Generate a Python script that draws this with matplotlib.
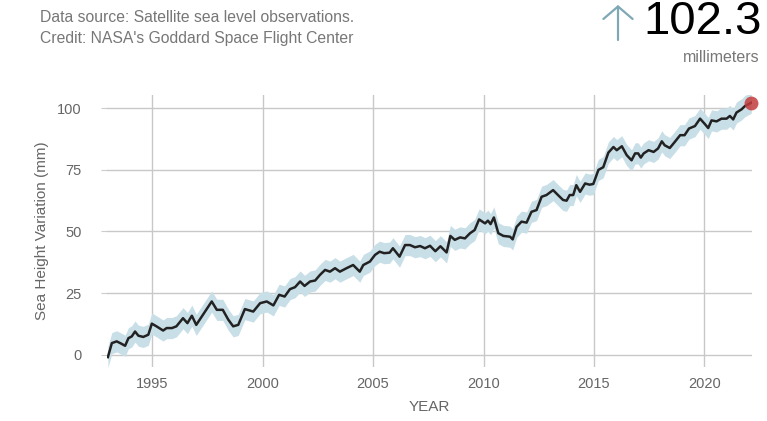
import numpy as np
import matplotlib
matplotlib.use("Agg")
import matplotlib.pyplot as plt

plt.rcParams["font.family"] = ["Liberation Sans", "DejaVu Sans"]

# Sea level readings (year, mm)
years = [1993.0, 1993.18, 1993.4, 1993.6, 1993.78, 1993.93, 1994.08, 1994.23, 1994.38, 1994.6,
         1994.83, 1994.99, 1995.2, 1995.5, 1995.66, 1995.9, 1996.1, 1996.4, 1996.6, 1996.8,
         1997.0, 1997.4, 1997.7, 1997.93, 1998.2, 1998.45, 1998.67, 1998.9, 1999.2, 1999.58,
         1999.89, 2000.19, 2000.49, 2000.75, 2001.0, 2001.24, 2001.47, 2001.7, 2001.9, 2002.15,
         2002.38, 2002.6, 2002.83, 2003.05, 2003.28, 2003.5, 2003.8, 2004.1, 2004.4, 2004.56,
         2004.86, 2005.09, 2005.3, 2005.5, 2005.75, 2005.9, 2006.2, 2006.45, 2006.67, 2006.9,
         2007.13, 2007.35, 2007.58, 2007.82, 2008.05, 2008.33, 2008.5, 2008.7, 2008.94, 2009.16,
         2009.39, 2009.6, 2009.8, 2010.07, 2010.2, 2010.32, 2010.47, 2010.67, 2010.9, 2011.2,
         2011.32, 2011.5, 2011.72, 2011.95, 2012.17, 2012.4, 2012.63, 2012.85, 2013.15, 2013.37,
         2013.6, 2013.76, 2013.9, 2014.06, 2014.2, 2014.37, 2014.6, 2014.8, 2014.97, 2015.2,
         2015.42, 2015.65, 2015.88, 2016.03, 2016.26, 2016.48, 2016.7, 2016.86, 2017.0, 2017.12,
         2017.25, 2017.47, 2017.7, 2017.9, 2018.07, 2018.2, 2018.43, 2018.66, 2018.9, 2019.1,
         2019.3, 2019.57, 2019.8, 2020.0, 2020.17, 2020.32, 2020.55, 2020.77, 2021.0, 2021.15,
         2021.3, 2021.45, 2021.68, 2021.83, 2022.12]
height_mm = [-1.0, 4.7, 5.4, 4.5, 3.6, 6.7, 7.4, 9.4, 7.7, 7.2,
             8.1, 12.6, 11.5, 9.8, 10.8, 10.8, 11.5, 14.8, 12.8, 15.8,
             12.1, 17.5, 21.6, 18.2, 18.2, 14.2, 11.5, 12.1, 18.5, 17.5,
             20.9, 21.6, 20.0, 24.3, 23.6, 26.6, 27.4, 29.7, 27.9, 29.7,
             30.1, 32.4, 34.4, 33.7, 35.1, 33.7, 35.1, 36.4, 33.7, 36.4,
             37.8, 40.5, 41.8, 41.2, 41.4, 43.2, 39.8, 44.5, 44.5, 43.6,
             44.1, 43.2, 44.2, 42.0, 44.0, 41.5, 48.2, 46.6, 47.6, 47.2,
             49.3, 50.6, 54.9, 53.3, 54.4, 53.0, 55.7, 49.3, 48.2, 47.9,
             46.8, 51.9, 54.0, 53.6, 58.0, 58.7, 64.1, 64.8, 66.8, 64.8,
             62.8, 62.5, 64.8, 64.8, 68.8, 66.1, 69.5, 69.0, 69.3, 75.0,
             76.1, 82.0, 84.3, 83.0, 84.6, 81.0, 78.9, 81.7, 81.7, 80.0,
             81.7, 83.0, 82.3, 83.7, 86.6, 85.0, 83.9, 86.4, 89.1, 89.1,
             91.8, 92.8, 95.8, 93.8, 92.0, 95.1, 94.7, 95.8, 95.8, 96.9,
             95.5, 98.3, 99.6, 100.9, 102.3]
uncertainty_mm = 4.3
latest_value = "102.3"

x = np.array(years)
y = np.array(height_mm)

fig = plt.figure(figsize=(7.67, 4.21), dpi=100)
ax = fig.add_axes([0.1395, 0.1283, 0.8409, 0.646])

ax.fill_between(x, y - uncertainty_mm, y + uncertainty_mm, color="#c9dfe7", lw=0)
ax.plot(x, y, color="#222222", lw=1.8)
ax.plot(x[-1], y[-1], "o", color="#c43c3c", ms=10, alpha=0.85, mec="none", clip_on=False)

ax.set_xlim(1992.96, 2022.15)
ax.set_ylim(-5, 105.4)
ax.set_xticks([1995, 2000, 2005, 2010, 2015, 2020])
ax.set_yticks([0, 25, 50, 75, 100])
ax.grid(True, color="#c8c8c8", lw=1)
ax.set_axisbelow(True)
for s in ax.spines.values():
    s.set_visible(False)
ax.tick_params(axis="x", length=0, pad=7, labelsize=10.5, labelcolor="#666666")
ax.tick_params(axis="y", length=4, color="#cccccc", pad=14, labelsize=10.5, labelcolor="#666666")
ax.set_xlabel("YEAR", fontsize=11, color="#666666", labelpad=7)
ax.set_ylabel("Sea Height Variation (mm)", fontsize=11, color="#666666", labelpad=6)

# Header texts
fig.text(40 / 767, 1 - 18 / 421, "Data source: Satellite sea level observations.",
         fontsize=11.3, color="#777777", va="center")
fig.text(40 / 767, 1 - 38 / 421, "Credit: NASA's Goddard Space Flight Center",
         fontsize=11.3, color="#777777", va="center")
fig.text(762 / 767, 1 - 22 / 421, latest_value, fontsize=34, color="black",
         ha="right", va="center")
fig.text(760 / 767, 1 - 57 / 421, "millimeters", fontsize=11.5, color="#777777",
         ha="right", va="center")

# thin "up" arrow next to the big number
ax.annotate("", xy=(618 / 767, 1 - 5 / 421), xytext=(618 / 767, 1 - 40 / 421),
            xycoords="figure fraction", textcoords="figure fraction",
            arrowprops=dict(arrowstyle="->, head_length=0.9, head_width=1.05",
                            color="#7fa8b6", lw=1.6, mutation_scale=10,
                            shrinkA=0, shrinkB=0))

fig.savefig("out.png", dpi=100)
